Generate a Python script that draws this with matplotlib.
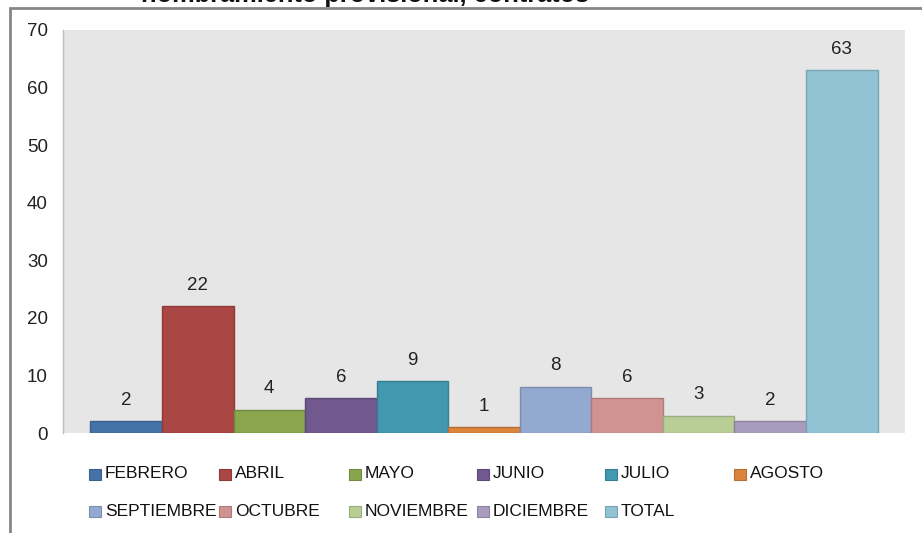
import matplotlib
matplotlib.use("Agg")
import matplotlib.pyplot as plt
from matplotlib.patches import Rectangle

months = ["FEBRERO", "ABRIL", "MAYO", "JUNIO", "JULIO", "AGOSTO",
          "SEPTIEMBRE", "OCTUBRE", "NOVIEMBRE", "DICIEMBRE", "TOTAL"]
values = [2, 22, 4, 6, 9, 1, 8, 6, 3, 2, 63]
colors = ["#4572A7", "#AA4643", "#89A54E", "#71588F", "#4198AF", "#DB843D",
          "#93A9CF", "#D19392", "#B9CD96", "#A99BBD", "#92C3D4"]
edges = ["#3A6090", "#8E3A38", "#728A41", "#5E4A78", "#357F92", "#B86E33",
         "#7B8EAE", "#AF7B7A", "#9BAC7E", "#8E829E", "#7AA4B2"]
yticks = [0, 10, 20, 30, 40, 50, 60, 70]
title = "nombramiento provisional, contratos"

W, H = 922, 533
fig = plt.figure(figsize=(W / 100, H / 100), dpi=100)
fig.patch.set_facecolor("white")

# axes: x 63..905, y 30..433 (pixels from top)
ax = fig.add_axes([63 / W, 1 - 433 / H, (905 - 63) / W, (433 - 30) / H])
ax.set_facecolor("#E6E6E6")

n = len(values)
group = 0.935
bw = group / n
for i, (m, v, c, e) in enumerate(zip(months, values, colors, edges)):
    x = -group / 2 + bw * (i + 0.5)
    ax.bar(x, v, width=bw, color=c, edgecolor=e, linewidth=1, label=m)
    ax.annotate(str(v), (x, v), xytext=(0, 9), textcoords="offset points",
                ha="center", va="bottom", fontsize=13.5,
                family="Liberation Sans", color="#222222")

ax.set_xlim(-0.5, 0.5)
ax.set_ylim(0, 70)
ax.set_yticks(yticks)
ax.set_yticklabels([str(t) for t in yticks], fontsize=13.5, family="Liberation Sans", color="#222222")
ax.tick_params(axis="y", length=0, pad=11)
ax.set_xticks([])
for s in ["top", "right", "bottom"]:
    ax.spines[s].set_visible(False)
ax.spines["left"].set_color("#BDBDBD")
ax.spines["left"].set_linewidth(1)

# manual legend: 2 rows x 6 columns
col_x = [89, 219, 349, 477, 605, 734]
row_y = [474, 511]
sq_w, sq_h = 12, 11
for i, (m, c, e) in enumerate(zip(months, colors, edges)):
    r, k = divmod(i, 6)
    x0 = col_x[k]
    y0 = row_y[r]
    fig.patches.append(Rectangle((x0 / W, 1 - (y0 + sq_h / 2) / H), sq_w / W, sq_h / H,
                                 transform=fig.transFigure, facecolor=c,
                                 edgecolor=e, linewidth=0.8))
    fig.text((x0 + sq_w + 4) / W, 1 - y0 / H, m, ha="left", va="center",
             fontsize=12.5, family="Liberation Sans", color="#111111")

# outer chart frame (partially outside the image)
fig.patches.append(Rectangle((10 / W, -0.1), 1.2, 1 - 8 / H + 0.1,
                             transform=fig.transFigure, facecolor="none",
                             edgecolor="#868686", linewidth=2))

# cut-off title (only its lower edge is visible, as in the source)
fig.text(365 / W, 1 - 2 / H, title, ha="center", va="baseline",
         fontsize=18.3, fontweight="bold", family="Liberation Sans", color="#111111")

fig.savefig("out.png", dpi=100)
